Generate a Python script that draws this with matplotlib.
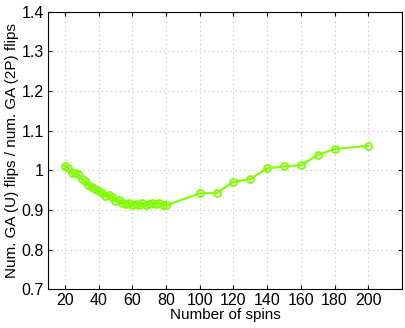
import numpy as np
import matplotlib.pyplot as plt

plt.rcParams['font.family'] = ['Liberation Sans', 'DejaVu Sans']

# number of spins
spins = [20, 22, 24, 26, 28, 30, 32, 34, 36, 38, 40, 42, 44, 46, 48, 50,
         52, 54, 56, 58, 60, 62, 64, 66, 68, 70, 72, 74, 76, 78, 80,
         100, 110, 120, 130, 140, 150, 160, 170, 180, 200]
# ratio of flips GA (U) / GA (2P)
ratio = [1.012, 1.005, 0.993, 0.993, 0.990, 0.978, 0.972, 0.962, 0.958, 0.952,
         0.948, 0.943, 0.935, 0.937, 0.932, 0.922, 0.925, 0.918, 0.915, 0.918,
         0.913, 0.915, 0.912, 0.917, 0.912, 0.915, 0.918, 0.915, 0.917, 0.913,
         0.912,
         0.942, 0.943, 0.971, 0.978, 1.005, 1.010, 1.013, 1.039, 1.054, 1.062]

xticks = [20, 40, 60, 80, 100, 120, 140, 160, 180, 200]
yticks = [0.7, 0.8, 0.9, 1.0, 1.1, 1.2, 1.3, 1.4]
ytick_labels = ['0.7', '0.8', '0.9', '1', '1.1', '1.2', '1.3', '1.4']

fig = plt.figure(figsize=(4.05, 3.28), dpi=100)
ax = fig.add_axes([0.1185, 0.118, 0.874, 0.846])

ax.plot(spins, ratio, color='#80ff00', marker='o', markerfacecolor='none',
        markeredgecolor='#80ff00', markersize=5, markeredgewidth=1.3, linewidth=1.5)

ax.set_xlim(10, 220)
ax.set_ylim(0.7, 1.4)
ax.set_xticks(xticks)
ax.set_yticks(yticks)
ax.set_yticklabels(ytick_labels)
ax.tick_params(direction='in', top=True, right=True, labelsize=11.5, length=3, pad=3)
ax.grid(True, linestyle=(0, (1, 3)), color='#c4c4c4', linewidth=0.8)

ax.set_xlabel('Number of spins', fontsize=11, labelpad=0)
ax.set_ylabel('Num. GA (U) flips / num. GA (2P) flips', fontsize=11, labelpad=2)

fig.savefig('out.png', dpi=100)
